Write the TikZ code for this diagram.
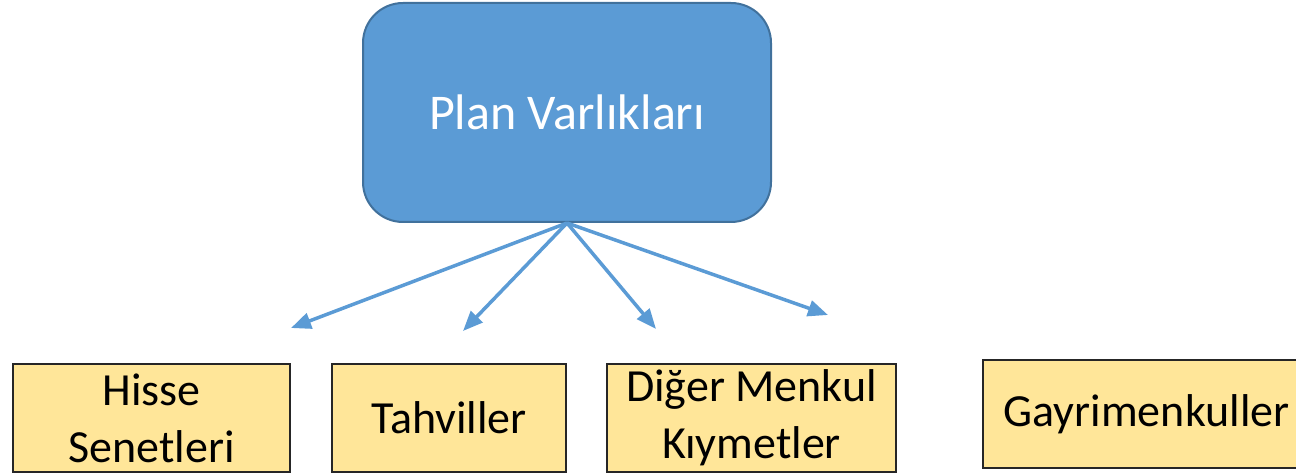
\documentclass[tikz,border=0pt]{standalone}
\usepackage{fontspec}
\setmainfont{Carlito}
\usetikzlibrary{arrows.meta,positioning}
\definecolor{planblue}{HTML}{5B9BD5}
\definecolor{planedge}{HTML}{41719C}
\definecolor{assetfill}{HTML}{FFE699}
\definecolor{assetedge}{HTML}{262626}
\begin{document}
\begin{tikzpicture}[x=0.5pt,y=-0.5pt,>={Triangle[length=10pt,width=8pt]},
 root/.style={draw=planedge,line width=1pt,fill=planblue,rounded corners=20pt,text=white,
   minimum width=204pt,minimum height=109.5pt,inner sep=0pt,font=\fontsize{25}{30}\selectfont},
 asset/.style={draw=assetedge,line width=1pt,fill=assetfill,align=center,inner sep=0pt,
   minimum height=54pt,font=\fontsize{23}{28.5}\selectfont},
 link/.style={->,draw=planblue,line width=1.75pt}]
\useasboundingbox (0,0) rectangle (1296,474);
\node[root] (plan) at (567,112.5) {Plan Varlıkları};
\node[asset,minimum width=138.5pt] (hisse) at (151.5,418) {Hisse\\Senetleri};
\node[asset,minimum width=117pt] (tahvil) at (449,418) {Tahviller};
\node[asset,minimum width=144.5pt] (diger) at (751.5,418) {Diğer Menkul\\Kıymetler};
\node[asset,minimum width=163.5pt] (gayri) at (1146.5,414) {Gayrimenkuller};
\coordinate (t1) at (291,328); \coordinate (t2) at (463,331);
\coordinate (t3) at (656,329); \coordinate (t4) at (828,315);
\draw[link] (plan.south) -- (t1);
\draw[link] (plan.south) -- (t2);
\draw[link] (plan.south) -- (t3);
\draw[link] (plan.south) -- (t4);
\end{tikzpicture}
\end{document}
